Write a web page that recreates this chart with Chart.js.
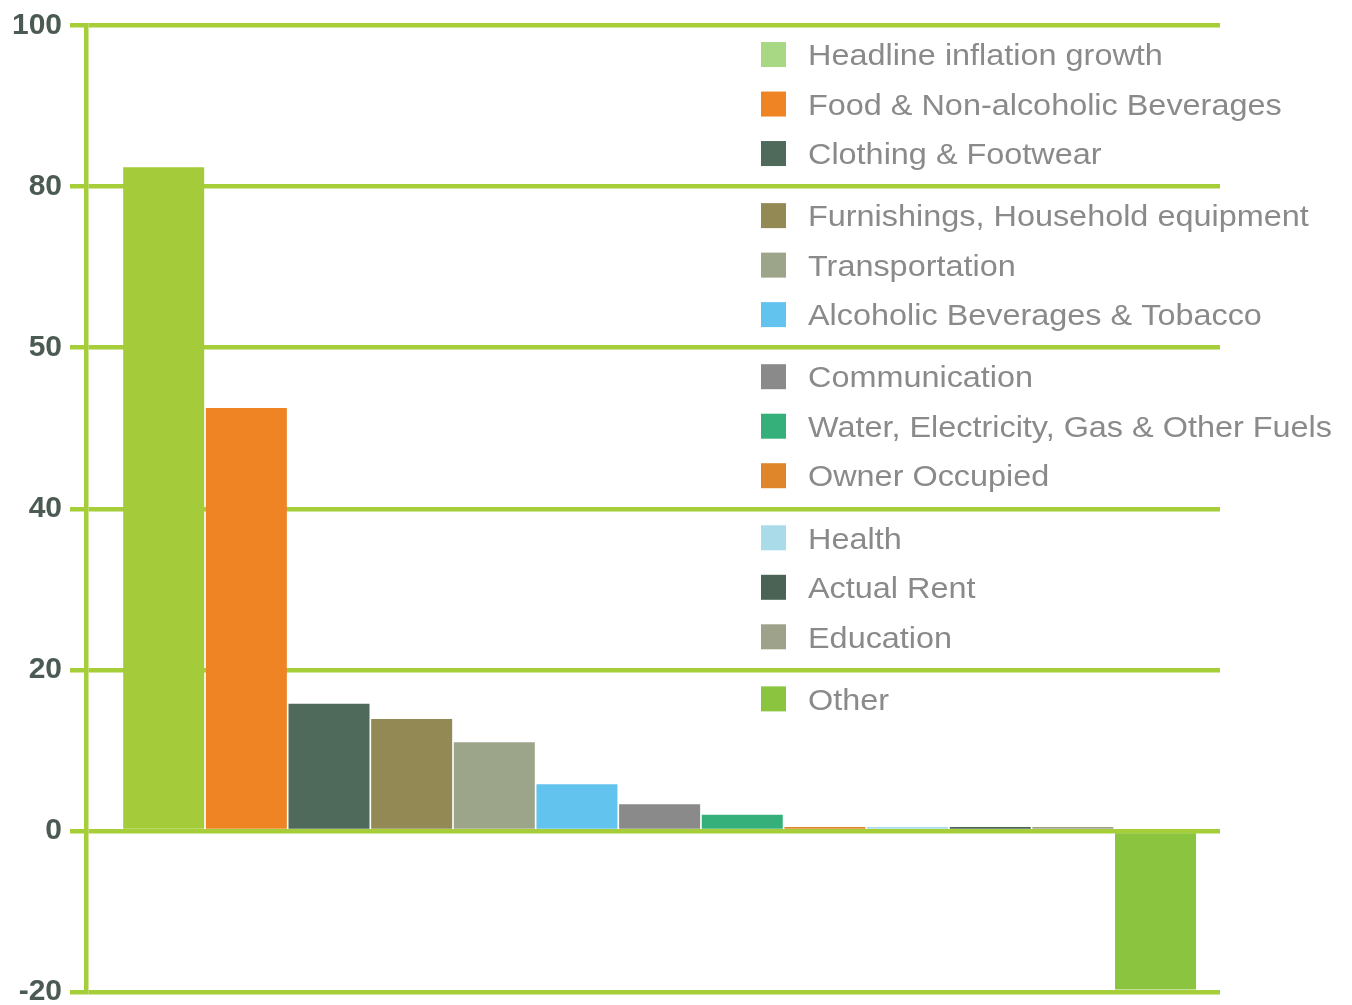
<!DOCTYPE html>
<html>
<head>
<meta charset="utf-8">
<script src="https://cdn.jsdelivr.net/npm/chart.js@4/dist/chart.umd.min.js"></script>
<style>
    html, body { margin: 0; padding: 0; background: #fff; }
    #wrap { width: 1352px; height: 1005px; position: relative; }
</style>
</head>
<body>
<div id="wrap"><canvas id="grafico"></canvas></div>
<script>
// categorie e valori (% del totale)
const categories = [
    'Headline inflation growth',
    'Food & Non-alcoholic Beverages',
    'Clothing & Footwear',
    'Furnishings, Household equipment',
    'Transportation',
    'Alcoholic Beverages & Tobacco',
    'Communication',
    'Water, Electricity, Gas & Other Fuels',
    'Owner Occupied',
    'Health',
    'Actual Rent',
    'Education',
    'Other'
];
const values = [82.4, 52.5, 15.8, 13.9, 11.0, 5.8, 3.3, 2.0, 0.5, 0.5, 0.5, 0.5, -19.7];

const barColors = [
    '#a4cc3a', '#ee8424', '#4f695a', '#938955', '#9ca489', '#63c3ef', '#8a8a8a',
    '#36b07a', '#e0862a', '#a9dce8', '#4a6355', '#9ea28a', '#8bc43f'
];
const swatchColors = [
    '#a9d884', '#ee8424', '#4f695a', '#938955', '#9ca489', '#63c3ef', '#8a8a8a',
    '#36b07a', '#e0862a', '#a9dce8', '#4a6355', '#9ea28a', '#8bc43f'
];

// valori delle tacche asse y e relative etichette
const tickValues = [-20, 0, 20, 40, 60, 80, 100];
const tickLabels = ['-20', '0', '20', '40', '50', '80', '100'];

const verde = '#a6ce39';

// legenda disegnata a gruppi di tre tra le linee della griglia
const legendaFasce = {
    id: 'legendaFasce',
    afterDraw(chart) {
        const { ctx, scales: { y } } = chart;
        const size = 30;
        ctx.save();
        ctx.font = size + 'px "Liberation Sans", Arial, sans-serif';
        ctx.textBaseline = 'alphabetic';
        categories.forEach((nome, i) => {
            const fascia = Math.floor(i / 3);
            const slot = i % 3;
            const alto = y.max - fascia * 20;
            const centro = (y.getPixelForValue(alto) + y.getPixelForValue(alto - 20)) / 2;
            const cy = centro - 2 + (slot - 1) * 49.5;

            ctx.fillStyle = swatchColors[i];
            ctx.fillRect(761, cy - 12.5, 25, 25);

            ctx.save();
            ctx.translate(808, cy + size * 0.716 / 2);
            ctx.scale(1.08, 1);
            ctx.fillStyle = '#8a8a8a';
            ctx.fillText(nome, 0, 0);
            ctx.restore();
        });
        ctx.restore();
    }
};

new Chart(document.getElementById('grafico').getContext('2d'), {
    type: 'bar',
    data: {
        datasets: [{
            data: values.map((v, i) => ({ x: i, y: v })),
            backgroundColor: barColors,
            borderWidth: 0,
            barPercentage: 0.98,
            categoryPercentage: 1
        }]
    },
    options: {
        responsive: true,
        maintainAspectRatio: false,
        animation: false,
        layout: { padding: { top: 25.5, right: 132, bottom: 13, left: 0 } },
        plugins: { legend: { display: false }, tooltip: { enabled: false } },
        scales: {
            x: {
                type: 'linear',
                display: false,
                offset: false,
                min: -0.94,
                max: 12.78,
                ticks: { stepSize: 1, includeBounds: false }
            },
            y: {
                min: -20,
                max: 100,
                afterFit: axis => {
                    axis.width = 86;
                    axis.paddingTop = 12;
                    axis.paddingBottom = 12;
                },
                ticks: {
                    stepSize: 20,
                    padding: 8,
                    color: '#4b5a52',
                    font: { family: '"Liberation Sans", Arial, sans-serif', weight: 'bold', size: 30 },
                    callback: value => {
                        const k = tickValues.indexOf(value);
                        return k >= 0 ? tickLabels[k] : '';
                    }
                },
                grid: {
                    color: verde,
                    lineWidth: 4.5,
                    tickLength: 16,
                    tickColor: verde
                },
                border: { display: true, color: verde, width: 4.5 }
            }
        }
    },
    plugins: [legendaFasce]
});
</script>
</body>
</html>
